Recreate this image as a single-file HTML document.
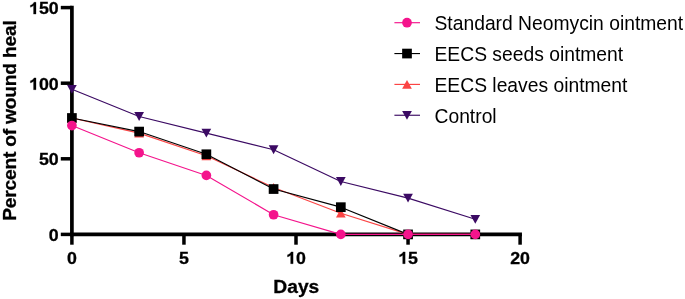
<!DOCTYPE html>
<html><head><meta charset="utf-8"><style>
html,body{margin:0;padding:0;background:#fff;}
body{width:685px;height:299px;overflow:hidden;}
svg{display:block;will-change:transform;}
text{font-family:"Liberation Sans",sans-serif;fill:#000;}
.b{font-weight:bold;stroke:#000;stroke-width:0.3px;}
</style></head><body>
<svg width="685" height="299" viewBox="0 0 685 299">
<rect width="685" height="299" fill="#fff"/>
<g stroke="#000" stroke-width="3.7" fill="none" stroke-linecap="butt">
<line x1="71.9" y1="5.75" x2="71.9" y2="236.25"/>
<line x1="70.05" y1="234.4" x2="521.95" y2="234.4"/>
</g>
<g stroke="#000" stroke-width="3.5" fill="none">
<line x1="60.80" y1="234.40" x2="71.90" y2="234.40"/>
<line x1="60.80" y1="158.80" x2="71.90" y2="158.80"/>
<line x1="60.80" y1="83.20" x2="71.90" y2="83.20"/>
<line x1="60.80" y1="7.60" x2="71.90" y2="7.60"/>
<line x1="71.90" y1="234.40" x2="71.90" y2="244.70"/>
<line x1="183.95" y1="234.40" x2="183.95" y2="244.70"/>
<line x1="296.00" y1="234.40" x2="296.00" y2="244.70"/>
<line x1="408.05" y1="234.40" x2="408.05" y2="244.70"/>
<line x1="520.10" y1="234.40" x2="520.10" y2="244.70"/>
</g>
<text class="b" font-size="17.8" transform="translate(48.80,240.90) scale(1,0.965)">0</text>
<text class="b" font-size="17.8" transform="translate(38.90,165.30) scale(1,0.965)">5</text>
<text class="b" font-size="17.8" transform="translate(48.80,165.30) scale(1,0.965)">0</text>
<path d="M806 0H525V1059Q371 915 162 846V1101Q272 1137 401 1237.5Q530 1338 578 1472H806Z" fill="#000" stroke="#000" stroke-width="34.5" transform="translate(29.00,89.70) scale(0.00869,-0.00803)"/>
<text class="b" font-size="17.8" transform="translate(38.90,89.70) scale(1,0.965)">0</text>
<text class="b" font-size="17.8" transform="translate(48.80,89.70) scale(1,0.965)">0</text>
<path d="M806 0H525V1059Q371 915 162 846V1101Q272 1137 401 1237.5Q530 1338 578 1472H806Z" fill="#000" stroke="#000" stroke-width="34.5" transform="translate(29.00,14.10) scale(0.00869,-0.00803)"/>
<text class="b" font-size="17.8" transform="translate(38.90,14.10) scale(1,0.965)">5</text>
<text class="b" font-size="17.8" transform="translate(48.80,14.10) scale(1,0.965)">0</text>
<text class="b" font-size="17.8" transform="translate(66.95,263.70) scale(1,0.965)">0</text>
<text class="b" font-size="17.8" transform="translate(179.00,263.70) scale(1,0.965)">5</text>
<path d="M806 0H525V1059Q371 915 162 846V1101Q272 1137 401 1237.5Q530 1338 578 1472H806Z" fill="#000" stroke="#000" stroke-width="34.5" transform="translate(286.10,263.70) scale(0.00869,-0.00803)"/>
<text class="b" font-size="17.8" transform="translate(296.00,263.70) scale(1,0.965)">0</text>
<path d="M806 0H525V1059Q371 915 162 846V1101Q272 1137 401 1237.5Q530 1338 578 1472H806Z" fill="#000" stroke="#000" stroke-width="34.5" transform="translate(398.15,263.70) scale(0.00869,-0.00803)"/>
<text class="b" font-size="17.8" transform="translate(408.05,263.70) scale(1,0.965)">5</text>
<text class="b" font-size="17.8" transform="translate(510.20,263.70) scale(1,0.965)">2</text>
<text class="b" font-size="17.8" transform="translate(520.10,263.70) scale(1,0.965)">0</text>
<text class="b" font-size="19.2" text-anchor="middle" x="296.3" y="293">Days</text>
<text class="b" font-size="19.2" text-anchor="middle" letter-spacing="-0.21" transform="translate(16.0,120.6) rotate(-90)">Percent of wound heal</text>
<polyline points="71.90,89.25 139.13,116.46 206.36,133.10 273.59,149.73 340.82,181.48 408.05,198.11 475.28,219.28" fill="none" stroke="#3b0a63" stroke-width="1.15" stroke-linejoin="round"/>
<polygon points="67.05,84.88 76.75,84.88 71.90,93.76" fill="#3b0a63"/>
<polygon points="134.28,112.10 143.98,112.10 139.13,120.97" fill="#3b0a63"/>
<polygon points="201.51,128.73 211.21,128.73 206.36,137.61" fill="#3b0a63"/>
<polygon points="268.74,145.36 278.44,145.36 273.59,154.24" fill="#3b0a63"/>
<polygon points="335.97,177.12 345.67,177.12 340.82,185.99" fill="#3b0a63"/>
<polygon points="403.20,193.75 412.90,193.75 408.05,202.62" fill="#3b0a63"/>
<polygon points="470.43,214.91 480.13,214.91 475.28,223.79" fill="#3b0a63"/>
<polyline points="71.90,117.98 139.13,133.10 206.36,155.78 273.59,187.53 340.82,213.23 408.05,234.40 475.28,234.40" fill="none" stroke="#fb4444" stroke-width="1.15" stroke-linejoin="round"/>
<polygon points="67.05,122.34 76.75,122.34 71.90,113.47" fill="#fb4444"/>
<polygon points="134.28,137.46 143.98,137.46 139.13,128.59" fill="#fb4444"/>
<polygon points="201.51,160.14 211.21,160.14 206.36,151.27" fill="#fb4444"/>
<polygon points="268.74,191.89 278.44,191.89 273.59,183.02" fill="#fb4444"/>
<polygon points="335.97,217.60 345.67,217.60 340.82,208.72" fill="#fb4444"/>
<polygon points="403.20,238.77 412.90,238.77 408.05,229.89" fill="#fb4444"/>
<polygon points="470.43,238.77 480.13,238.77 475.28,229.89" fill="#fb4444"/>
<polyline points="71.90,117.98 139.13,131.58 206.36,154.26 273.59,189.04 340.82,207.18 408.05,234.40 475.28,234.40" fill="none" stroke="#000000" stroke-width="1.15" stroke-linejoin="round"/>
<rect x="67.05" y="113.13" width="9.70" height="9.70" fill="#000000"/>
<rect x="134.28" y="126.73" width="9.70" height="9.70" fill="#000000"/>
<rect x="201.51" y="149.41" width="9.70" height="9.70" fill="#000000"/>
<rect x="268.74" y="184.19" width="9.70" height="9.70" fill="#000000"/>
<rect x="335.97" y="202.33" width="9.70" height="9.70" fill="#000000"/>
<rect x="403.20" y="229.55" width="9.70" height="9.70" fill="#000000"/>
<rect x="470.43" y="229.55" width="9.70" height="9.70" fill="#000000"/>
<polyline points="71.90,125.54 139.13,152.75 206.36,175.43 273.59,214.74 340.82,234.40 408.05,234.40 475.28,234.40" fill="none" stroke="#f4148c" stroke-width="1.15" stroke-linejoin="round"/>
<circle cx="71.90" cy="125.54" r="4.85" fill="#f4148c"/>
<circle cx="139.13" cy="152.75" r="4.85" fill="#f4148c"/>
<circle cx="206.36" cy="175.43" r="4.85" fill="#f4148c"/>
<circle cx="273.59" cy="214.74" r="4.85" fill="#f4148c"/>
<circle cx="340.82" cy="234.40" r="4.85" fill="#f4148c"/>
<circle cx="408.05" cy="234.40" r="4.85" fill="#f4148c"/>
<circle cx="475.28" cy="234.40" r="4.85" fill="#f4148c"/>
<line x1="394.4" y1="22.70" x2="420.0" y2="22.70" stroke="#f4148c" stroke-width="1.15"/>
<circle cx="407.00" cy="22.70" r="4.85" fill="#f4148c"/>
<text font-size="19.3" x="434.5" y="30.10">Standard Neomycin ointment</text>
<line x1="394.4" y1="53.55" x2="420.0" y2="53.55" stroke="#000000" stroke-width="1.15"/>
<rect x="402.15" y="48.70" width="9.70" height="9.70" fill="#000000"/>
<text font-size="19.3" x="434.5" y="60.95">EECS seeds ointment</text>
<line x1="394.4" y1="84.40" x2="420.0" y2="84.40" stroke="#fb4444" stroke-width="1.15"/>
<polygon points="402.15,88.77 411.85,88.77 407.00,79.89" fill="#fb4444"/>
<text font-size="19.3" x="434.5" y="91.80">EECS leaves ointment</text>
<line x1="394.4" y1="115.25" x2="420.0" y2="115.25" stroke="#3b0a63" stroke-width="1.15"/>
<polygon points="402.15,110.89 411.85,110.89 407.00,119.76" fill="#3b0a63"/>
<text font-size="19.3" x="434.5" y="122.65">Control</text>
</svg></body></html>
